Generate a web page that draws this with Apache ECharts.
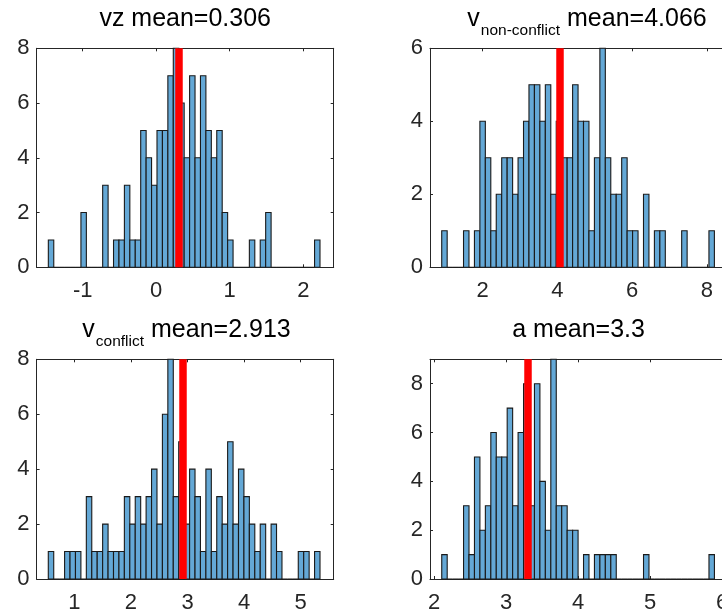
<!DOCTYPE html>
<html>
<head>
<meta charset="utf-8">
<script src="https://cdn.jsdelivr.net/npm/echarts@6/dist/echarts.min.js"></script>
<style>
  html, body { margin: 0; padding: 0; background: #ffffff; }
  #chart { width: 722px; height: 614px; }
</style>
</head>
<body>
<div id="chart"></div>
<script>
// ---- vz ----
const vzBinStart = -1.4674;
const vzBinWidth = 0.0739;
const vzCounts = [1,0,0,0,0,0,2,0,0,0, 3,0,1,1,3,1,1,5,4,3, 5,5,7,8,6,4,7,4,7,5, 4,5,2,1,0,0,0,1,0,1, 2,0,0,0,0,0,0,0,0,1];
const vzMean = 0.306;
const vzTicksX = [-1, 0, 1, 2];
const vzTicksY = [0, 2, 4, 6, 8];

// ---- v non-conflict ----
const nonConflictBinStart = 0.9017;
const nonConflictBinWidth = 0.14604;
const nonConflictCounts = [1,0,0,0,1,0,1,4,3,1, 2,3,3,2,3,4,5,5,4,5, 2,4,3,3,5,4,4,1,3,6, 3,2,2,3,1,1,0,2,0,1, 1,0,0,0,1,0,0,0,0,1];
const nonConflictMean = 4.066;
const nonConflictTicksX = [2, 4, 6, 8];
const nonConflictTicksY = [0, 2, 4, 6];

// ---- v conflict ----
const conflictBinStart = 0.5406;
const conflictBinWidth = 0.09601;
const conflictCounts = [1,0,0,1,1,1,0,3,1,1, 2,1,1,1,3,2,3,2,3,4, 2,6,8,3,5,2,4,3,1,4, 1,3,2,5,2,4,3,2,1,2, 0,2,1,0,0,0,1,1,0,1];
const conflictMean = 2.913;
const conflictTicksX = [1, 2, 3, 4, 5];
const conflictTicksY = [0, 2, 4, 6, 8];

// ---- a ----
const aBinStart = 2.107;
const aBinWidth = 0.07572;
const aCounts = [1,0,0,0,3,1,5,2,3,6, 5,5,7,3,6,8,3,8,4,2, 9,3,3,2,2,0,1,0,1,1, 1,1,0,0,0,0,0,1,0,0, 0,0,0,0,0,0,0,0,0,1];
const aMean = 3.3;
const aTicksX = [2, 3, 4, 5, 6];
const aTicksY = [0, 2, 4, 6, 8];

const FONT = '"Liberation Sans", Arial, Helvetica, sans-serif';
const AXIS_COLOR = '#262626';
const BAR_FILL = '#64A8D6';
const BAR_EDGE = '#1a1a1a';
const MEAN_COLOR = '#ff0000';

// Panel layout: axis frame in pixels and axis limits
const panels = [
  { name: 'vz', title: '{m|vz mean=' + vzMean + '}',
    start: vzBinStart, width: vzBinWidth, counts: vzCounts, mean: vzMean,
    ticksX: vzTicksX, ticksY: vzTicksY, xMin: -1.627, xMax: 2.414, yMax: 8,
    grid: { left: 36.6, top: 48.3, width: 297.1, height: 219 }, titleX: 185.2, titleTop: 6.5 },
  { name: 'nonConflict', title: '{m|v}{s|non-conflict}{m| mean=' + nonConflictMean + '}',
    start: nonConflictBinStart, width: nonConflictBinWidth, counts: nonConflictCounts, mean: nonConflictMean,
    ticksX: nonConflictTicksX, ticksY: nonConflictTicksY, xMin: 0.588, xMax: 8.544, yMax: 6,
    grid: { left: 430, top: 48.3, width: 297.1, height: 219 }, titleX: 587, titleTop: 6.5 },
  { name: 'conflict', title: '{m|v}{s|conflict}{m| mean=' + conflictMean + '}',
    start: conflictBinStart, width: conflictBinWidth, counts: conflictCounts, mean: conflictMean,
    ticksX: conflictTicksX, ticksY: conflictTicksY, xMin: 0.334, xMax: 5.583, yMax: 8,
    grid: { left: 36.6, top: 359.3, width: 297.1, height: 219.7 }, titleX: 186.5, titleTop: 317.5 },
  { name: 'a', title: '{m|a mean=' + aMean + '}',
    start: aBinStart, width: aBinWidth, counts: aCounts, mean: aMean,
    ticksX: aTicksX, ticksY: aTicksY, xMin: 1.944, xMax: 6.069, yMax: 9,
    grid: { left: 430, top: 359.3, width: 297.1, height: 219.7 }, titleX: 578.6, titleTop: 317.5 }
];

function histRenderItem(params, api) {
  const x0 = api.value(0);
  const x1 = api.value(1);
  const h = api.value(2);
  const p0 = api.coord([x0, 0]);
  const p1 = api.coord([x1, h]);
  return {
    type: 'rect',
    shape: { x: p0[0], y: p1[1], width: p1[0] - p0[0], height: p0[1] - p1[1] },
    style: { fill: BAR_FILL, stroke: BAR_EDGE, lineWidth: 1.1 }
  };
}

const lineStyle = { color: AXIS_COLOR, width: 1 };

function xAxisFor(p, i, pos) {
  return {
    type: 'value', gridIndex: i, position: pos, min: p.xMin, max: p.xMax,
    axisLine: { show: true, onZero: false, lineStyle: lineStyle },
    axisTick: { show: true, inside: true, length: 3, customValues: p.ticksX, lineStyle: lineStyle },
    axisLabel: pos === 'bottom'
      ? { show: true, customValues: p.ticksX, fontSize: 22, fontFamily: FONT, color: AXIS_COLOR, margin: 13, lineHeight: 22, hideOverlap: false }
      : { show: false },
    splitLine: { show: false }
  };
}

function yAxisFor(p, i, pos) {
  return {
    type: 'value', gridIndex: i, position: pos, min: 0, max: p.yMax,
    axisLine: { show: true, onZero: false, lineStyle: lineStyle },
    axisTick: { show: true, inside: true, length: 3, customValues: p.ticksY, lineStyle: lineStyle },
    axisLabel: pos === 'left'
      ? { show: true, customValues: p.ticksY, fontSize: 22, fontFamily: FONT, color: AXIS_COLOR, margin: 7 }
      : { show: false },
    splitLine: { show: false }
  };
}

const grids = [], xAxes = [], yAxes = [], series = [], titles = [];
panels.forEach(function (p, i) {
  grids.push(Object.assign({ containLabel: false, outerBoundsMode: 'none' }, p.grid));
  xAxes.push(xAxisFor(p, i, 'bottom'));
  xAxes.push(xAxisFor(p, i, 'top'));
  yAxes.push(yAxisFor(p, i, 'left'));
  yAxes.push(yAxisFor(p, i, 'right'));

  const data = p.counts.map(function (c, k) {
    return [p.start + k * p.width, p.start + (k + 1) * p.width, c];
  });

  series.push({
    name: p.name,
    type: 'custom',
    xAxisIndex: i * 2,
    yAxisIndex: i * 2,
    renderItem: histRenderItem,
    encode: { x: [0, 1], y: 2 },
    data: data,
    silent: true,
    animation: false,
    markLine: {
      silent: true,
      symbol: ['none', 'none'],
      label: { show: false },
      lineStyle: { color: MEAN_COLOR, width: 7.5, type: 'solid', opacity: 1 },
      emphasis: { disabled: true },
      animation: false,
      data: [{ xAxis: p.mean }]
    }
  });

  titles.push({
    text: p.title,
    left: p.titleX,
    top: p.titleTop,
    textAlign: 'center',
    padding: 0,
    textStyle: {
      fontFamily: FONT,
      rich: {
        m: { fontSize: 25, lineHeight: 29, verticalAlign: 'top', color: '#000000', fontFamily: FONT, fontWeight: 'normal' },
        s: { fontSize: 15.5, lineHeight: 16, padding: [16, 0, 0, 1], verticalAlign: 'top', color: '#000000', fontFamily: FONT, fontWeight: 'normal' }
      }
    }
  });
});

const chart = echarts.init(document.getElementById('chart'), null, { renderer: 'canvas' });
chart.setOption({
  backgroundColor: '#ffffff',
  animation: false,
  title: titles,
  grid: grids,
  xAxis: xAxes,
  yAxis: yAxes,
  series: series
});
</script>
</body>
</html>
